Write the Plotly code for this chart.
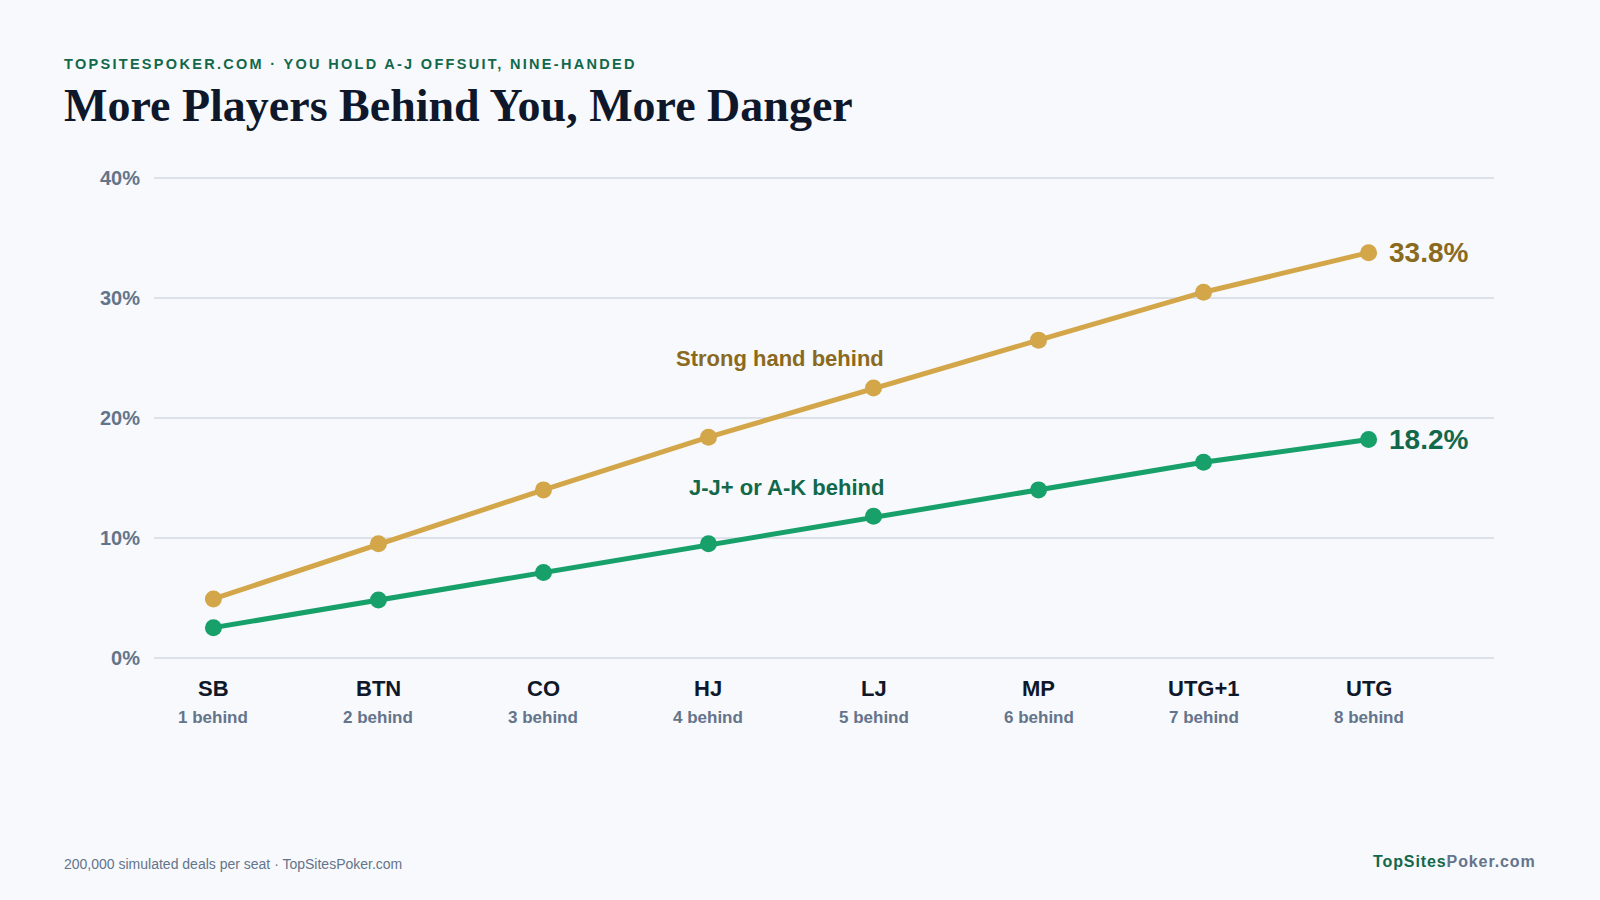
import plotly.graph_objects as go

positions = ["SB", "BTN", "CO", "HJ", "LJ", "MP", "UTG+1", "UTG"]
behind = ["1 behind", "2 behind", "3 behind", "4 behind", "5 behind", "6 behind", "7 behind", "8 behind"]
strong_hand = [4.9, 9.5, 14.0, 18.4, 22.5, 26.5, 30.5, 33.8]
jj_ak = [2.5, 4.8, 7.1, 9.5, 11.8, 14.0, 16.3, 18.2]
y_ticks = [0, 10, 20, 30, 40]
y_tick_labels = ["0%", "10%", "20%", "30%", "40%"]

BG = "#f7f9fc"
GOLD = "#d4a64a"
GOLD_DARK = "#8a6a1e"
GREEN = "#18a06a"
GREEN_DARK = "#12684a"
SLATE = "#64748b"
INK = "#0f172a"
FONT = "Liberation Sans, Arial, sans-serif"

x = list(range(len(positions)))

fig = go.Figure()
fig.add_trace(go.Scatter(
    x=x, y=strong_hand, mode="lines+markers",
    line=dict(color=GOLD, width=5),
    marker=dict(color=GOLD, size=17),
    hoverinfo="skip", showlegend=False))
fig.add_trace(go.Scatter(
    x=x, y=jj_ak, mode="lines+markers",
    line=dict(color=GREEN, width=5),
    marker=dict(color=GREEN, size=17),
    hoverinfo="skip", showlegend=False))

# layout geometry: value 0 at y=658px, 40 at y=178px
YPAD = 0.2
ML, MR, MT, MB = 154, 106, 176, 240
W, H = 1600, 900
pw, ph = W - ML - MR, H - MT - MB

annotations = []
# category labels (two lines) anchored to the x scale
for xi, p, b in zip(x, positions, behind):
    annotations.append(dict(x=xi, y=0, xref="x", yref="y", text=f"<b>{p}</b>", showarrow=False,
                            xanchor="center", yanchor="middle", yshift=-31,
                            font=dict(size=22, color=INK, family=FONT)))
    annotations.append(dict(x=xi, y=0, xref="x", yref="y", text=f"<b>{b}</b>", showarrow=False,
                            xanchor="center", yanchor="middle", yshift=-60,
                            font=dict(size=17, color=SLATE, family=FONT)))

annotations += [
    # end labels
    dict(x=x[-1], y=strong_hand[-1], xref="x", yref="y", text=f"<b>{strong_hand[-1]:.1f}%</b>",
         showarrow=False, xanchor="left", xshift=18, font=dict(size=28, color=GOLD_DARK, family=FONT)),
    dict(x=x[-1], y=jj_ak[-1], xref="x", yref="y", text=f"<b>{jj_ak[-1]:.1f}%</b>",
         showarrow=False, xanchor="left", xshift=18, font=dict(size=28, color=GREEN_DARK, family=FONT)),
    # series labels
    dict(x=4, y=strong_hand[4], xref="x", yref="y", text="<b>Strong hand behind</b>",
         showarrow=False, xanchor="right", yanchor="middle", xshift=12, yshift=30,
         font=dict(size=22, color=GOLD_DARK, family=FONT)),
    dict(x=4, y=jj_ak[4], xref="x", yref="y", text="<b>J-J+ or A-K behind</b>",
         showarrow=False, xanchor="right", yanchor="middle", xshift=12, yshift=29,
         font=dict(size=22, color=GREEN_DARK, family=FONT)),
    # header
    dict(x=62, y=64, xref="paper", yref="paper",
         text="<span style='letter-spacing:2.3px'><b>TOPSITESPOKER.COM · YOU HOLD A-J OFFSUIT, NINE-HANDED</b></span>",
         showarrow=False, xanchor="left", yanchor="middle", font=dict(size=14.5, color=GREEN_DARK, family=FONT)),
    dict(x=62, y=105, xref="paper", yref="paper", text="<b>More Players Behind You, More Danger</b>",
         showarrow=False, xanchor="left", yanchor="middle",
         font=dict(size=46, color=INK, family="Liberation Serif, Times New Roman, serif")),
    # footer
    dict(x=62, y=864, xref="paper", yref="paper", text="200,000 simulated deals per seat · TopSitesPoker.com",
         showarrow=False, xanchor="left", yanchor="middle", font=dict(size=14, color=SLATE, family=FONT)),
    dict(x=1538, y=861, xref="paper", yref="paper",
         text=f"<span style='letter-spacing:0.9px'><b><span style='color:{GREEN_DARK}'>TopSites</span><span style='color:{SLATE}'>Poker.com</span></b></span>",
         showarrow=False, xanchor="right", yanchor="middle", font=dict(size=16, family=FONT)),
]

# convert pixel positions of header/footer to paper coords
for a in annotations:
    if a["xref"] == "paper":
        a["x"] = (a["x"] - ML) / pw
        a["y"] = (H - MB - a["y"]) / ph

fig.update_layout(
    width=W, height=H,
    margin=dict(l=ML, r=MR, t=MT, b=MB),
    paper_bgcolor=BG, plot_bgcolor=BG,
    annotations=annotations,
    xaxis=dict(
        range=[-0.36, 7.76], tickmode="array", tickvals=x, showticklabels=False,
        showgrid=False, zeroline=False, showline=False, ticks="", automargin=False,
    ),
    yaxis=dict(
        range=[-YPAD, 40 + YPAD], tickmode="array", tickvals=y_ticks,
        ticktext=[f"<b>{t}</b>" for t in y_tick_labels],
        showgrid=True, gridcolor="#dde2ea", gridwidth=1.5, zeroline=False, showline=False,
        tickfont=dict(size=20, color=SLATE, family=FONT), ticks="", ticklabelstandoff=13,
        automargin=False,
    ),
)
fig.update_traces(cliponaxis=False)

fig.write_html("out.html")
